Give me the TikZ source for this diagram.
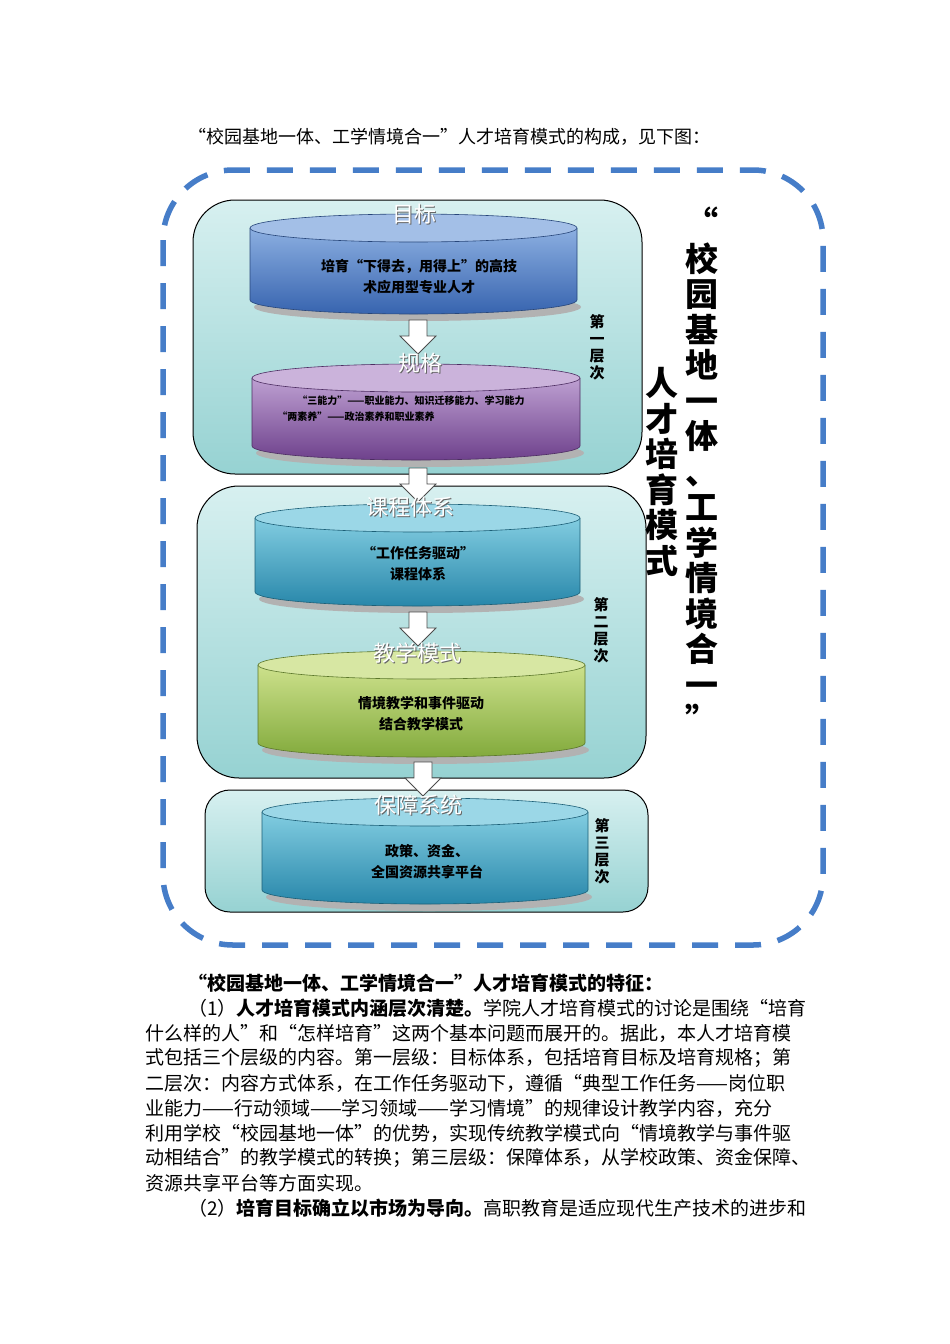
\documentclass[tikz,border=0pt]{standalone}
\usepackage{fontspec}
\setmainfont{Noto Sans CJK SC}
\usetikzlibrary{shadows,calc}
\definecolor{dashblue}{RGB}{70,125,200}
\definecolor{tealA}{RGB}{215,240,240}
\definecolor{tealB}{RGB}{150,210,210}
\definecolor{bluL}{RGB}{140,175,225}\definecolor{bluD}{RGB}{55,100,175}
\definecolor{purL}{RGB}{190,160,210}\definecolor{purD}{RGB}{110,65,140}
\definecolor{cyaL}{RGB}{130,205,225}\definecolor{cyaD}{RGB}{40,135,170}
\definecolor{grnL}{RGB}{205,225,140}\definecolor{grnD}{RGB}{130,170,60}
\tikzset{x=1pt,y=-1pt,
 layer/.style={draw=black,line width=1pt,rounded corners=42pt,top color=tealA,bottom color=tealB},
 body/.style={font=\fontsize{19}{25}\selectfont,anchor=west,inner sep=0},
 ttl/.style={font=\fontsize{22}{22}\selectfont,text=white,inner sep=0},
 inner/.style={font=\bfseries\fontsize{14}{21}\selectfont,align=center,inner sep=0},
 vlab/.style={font=\bfseries\fontsize{15}{17}\selectfont,align=center,inner sep=0},
 big/.style={font=\bfseries\fontsize{33}{35.5}\selectfont,align=center,inner sep=0},
 darr/.style={draw=black!70,fill=white,line width=0.8pt}}
\newcommand\mycyl[6]{%
 \fill[black!30] ({(#1+#2)/2+4},#4+7) ellipse ({(#2-#1)/2} and 14);
 \path[top color=#5,bottom color=#6] (#1,#3) -- (#1,#4) arc[start angle=180,end angle=360,x radius={(#2-#1)/2},y radius=-14] -- (#2,#3) -- cycle;
 \draw[#6!70!black,line width=0.6pt] (#1,#3) -- (#1,#4) arc[start angle=180,end angle=360,x radius={(#2-#1)/2},y radius=-14] -- (#2,#3);
 \draw[#6!70!black,line width=0.6pt,fill=#5!80!white] ({(#1+#2)/2},#3) ellipse ({(#2-#1)/2} and 14);}
\newcommand\myarr[2]{%
 \draw[darr] (#1-9,#2) -- (#1+9,#2) -- (#1+9,#2+16) -- (#1+18,#2+16) -- (#1,#2+34) -- (#1-18,#2+16) -- (#1-9,#2+16) -- cycle;}
\begin{document}
\begin{tikzpicture}
\useasboundingbox (0,0) rectangle (950,1344);
\fill[white] (0,0) rectangle (950,1344);
\node[body,font=\fontsize{18}{18}\selectfont] (cap) at (188,137) {“校园基地一体、工学情境合一”人才培育模式的构成，见下图：};
\draw[dashblue,line width=5.5pt,dash pattern=on 26pt off 17pt,rounded corners=70pt] (163,170) rectangle (823,945);
\draw[layer] (193,200) rectangle (642,474);
\draw[layer] (197,486) rectangle (646,778);
\draw[layer,rounded corners=25pt] (205,790) rectangle (648,912);
\mycyl{250}{577}{228}{300}{bluL}{bluD}
\mycyl{252}{580}{378}{446}{purL}{purD}
\mycyl{255}{580}{518}{592}{cyaL}{cyaD}
\mycyl{258}{585}{665}{743}{grnL}{grnD}
\mycyl{262}{588}{812}{890}{cyaL}{cyaD}
\myarr{418}{320}
\myarr{418}{468}
\myarr{418}{612}
\myarr{423}{762}
\foreach \t/\x/\y/\n in {目标/414/214/t1,规格/420/363/t2,课程体系/410/507/t3,教学模式/417/653/t4,保障系统/418/805/t5}{
 \node[ttl,text=black!60] at (\x+1.5,\y+1.5) {\t};
 \node[ttl] (\n) at (\x,\y) {\t};}
\node[inner] (c1) at (419,277) {培育“下得去，用得上”的高技\\术应用型专业人才};
\node[inner,font=\bfseries\fontsize{10}{16}\selectfont,align=left] (c2) at (401,409) {\hspace*{2em}“三能力”——职业能力、知识迁移能力、学习能力\\“两素养”——政治素养和职业素养};
\node[inner] (c3) at (418,564) {“工作任务驱动”\\课程体系};
\node[inner] (c4) at (421,714) {情境教学和事件驱动\\结合教学模式};
\node[inner] (c5) at (427,862) {政策、资金、\\全国资源共享平台};
\node[vlab] (v1) at (597,347) {第\\一\\层\\次};
\node[vlab] (v2) at (601,630) {第\\二\\层\\次};
\node[vlab] (v3) at (602,851) {第\\三\\层\\次};
\node[big] (b1) at (702,470) {“\\校\\园\\基\\地\\一\\体\\、\\工\\学\\情\\境\\合\\一\\”};
\node[big] (b2) at (662,472) {人\\才\\培\\育\\模\\式};
\node[body] (p0) at (188,983) {\bfseries “校园基地一体、工学情境合一”人才培育模式的特征：};
\node[body] (p1) at (188,1008) {（1）\textbf{人才培育模式内涵层次清楚。}学院人才培育模式的讨论是围绕“培育};
\node[body] (p2) at (145,1033) {什么样的人”和“怎样培育”这两个基本问题而展开的。据此，本人才培育模};
\node[body] (p3) at (145,1058) {式包括三个层级的内容。第一层级：目标体系，包括培育目标及培育规格；第};
\node[body] (p4) at (145,1083) {二层次：内容方式体系，在工作任务驱动下，遵循“典型工作任务——岗位职};
\node[body] (p5) at (145,1108) {业能力——行动领域——学习领域——学习情境”的规律设计教学内容，充分};
\node[body] (p6) at (145,1133) {利用学校“校园基地一体”的优势，实现传统教学模式向“情境教学与事件驱};
\node[body] (p7) at (145,1158) {动相结合”的教学模式的转换；第三层级：保障体系，从学校政策、资金保障、};
\node[body] (p8) at (145,1183) {资源共享平台等方面实现。};
\node[body] (p9) at (188,1208) {（2）\textbf{培育目标确立以市场为导向。}高职教育是适应现代生产技术的进步和};
\end{tikzpicture}
\end{document}
